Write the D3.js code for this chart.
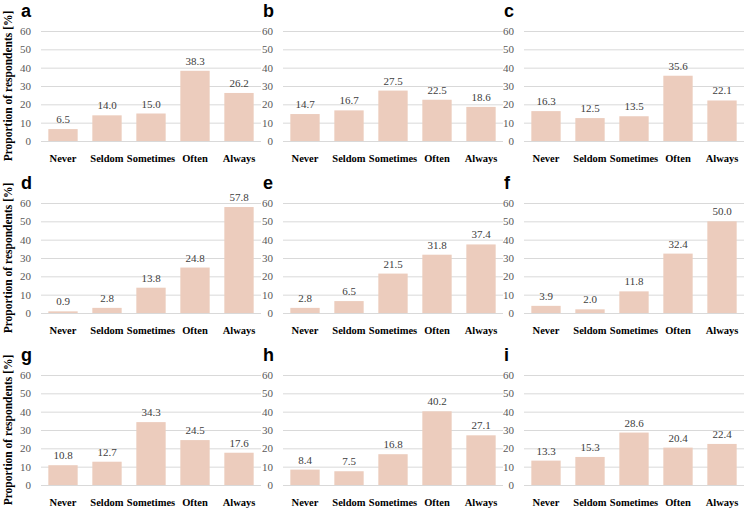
<!DOCTYPE html>
<html>
<head>
<meta charset="utf-8">
<script src="https://cdn.jsdelivr.net/npm/d3@7"></script>
<style>
  body { margin: 0; background: #fff; }
  svg { display: block; }
  .serif { font-family: 'Times New Roman', 'Liberation Serif', Tinos, 'DejaVu Serif', serif; }
  .sans { font-family: Arial, 'Liberation Sans', sans-serif; }
</style>
</head>
<body>
<script>
// answer categories, shared by all nine panels
const categories = ["Never", "Seldom", "Sometimes", "Often", "Always"];
const panelLetters = ["a", "b", "c", "d", "e", "f", "g", "h", "i"];
const yTicks = [0, 10, 20, 30, 40, 50, 60];

// proportion of respondents [%] per panel
const valuesA = [6.5, 14.0, 15.0, 38.3, 26.2];
const valuesB = [14.7, 16.7, 27.5, 22.5, 18.6];
const valuesC = [16.3, 12.5, 13.5, 35.6, 22.1];
const valuesD = [0.9, 2.8, 13.8, 24.8, 57.8];
const valuesE = [2.8, 6.5, 21.5, 31.8, 37.4];
const valuesF = [3.9, 2.0, 11.8, 32.4, 50.0];
const valuesG = [10.8, 12.7, 34.3, 24.5, 17.6];
const valuesH = [8.4, 7.5, 16.8, 40.2, 27.1];
const valuesI = [13.3, 15.3, 28.6, 20.4, 22.4];

const panelValues = [valuesA, valuesB, valuesC, valuesD, valuesE, valuesF, valuesG, valuesH, valuesI];

const W = 747, H = 513;
const colLeft = [41, 283, 524];
const rowTop = [31, 203, 375];
const plotW = 220, plotH = 110;

const svg = d3.select("body").append("svg")
    .attr("width", W)
    .attr("height", H);

const x = d3.scaleBand()
    .domain(categories)
    .range([0, plotW])
    .paddingInner(1 / 3)
    .paddingOuter(1 / 6);

const y = d3.scaleLinear()
    .domain([0, 60])
    .range([plotH, 0]);

panelValues.forEach((vals, i) => {
    const col = i % 3, row = Math.floor(i / 3);
    const g = svg.append("g")
        .attr("transform", `translate(${colLeft[col]},${rowTop[row]})`);

    // gridlines
    g.selectAll(".grid")
        .data(yTicks)
        .enter()
        .append("line")
        .attr("x1", 0)
        .attr("x2", plotW)
        .attr("y1", d => y(d) + 0.5)
        .attr("y2", d => y(d) + 0.5)
        .attr("stroke", "#d9d9d9")
        .attr("stroke-width", 1);

    // tick labels
    g.selectAll(".tick")
        .data(yTicks)
        .enter()
        .append("text")
        .attr("class", "serif")
        .attr("x", -10)
        .attr("y", d => y(d))
        .attr("dy", "0.35em")
        .attr("text-anchor", "end")
        .attr("font-size", 11)
        .attr("fill", "#595959")
        .text(d => d);

    // bars
    g.selectAll(".bar")
        .data(vals)
        .enter()
        .append("rect")
        .attr("x", (d, j) => x(categories[j]))
        .attr("width", x.bandwidth())
        .attr("y", d => y(d))
        .attr("height", d => plotH - y(d))
        .attr("fill", "#ecccbd");

    // value labels
    g.selectAll(".val")
        .data(vals)
        .enter()
        .append("text")
        .attr("class", "serif")
        .attr("x", (d, j) => x(categories[j]) + x.bandwidth() / 2)
        .attr("y", d => y(d) - 6)
        .attr("text-anchor", "middle")
        .attr("font-size", 11)
        .attr("fill", "#404040")
        .text(d => d.toFixed(1));

    // category labels
    g.selectAll(".cat")
        .data(categories)
        .enter()
        .append("text")
        .attr("class", "serif")
        .attr("x", d => x(d) + x.bandwidth() / 2)
        .attr("y", plotH + 21)
        .attr("text-anchor", "middle")
        .attr("font-weight", "bold")
        .attr("font-size", 10.5)
        .attr("fill", "#000")
        .text(d => d);

    // panel letter
    g.append("text")
        .attr("class", "sans")
        .attr("x", -20)
        .attr("y", -14)
        .attr("font-weight", "bold")
        .attr("font-size", 18)
        .attr("fill", "#000")
        .text(panelLetters[i]);

    // y axis title, first column only
    if (col === 0) {
        g.append("text")
            .attr("class", "serif")
            .attr("transform", `translate(${-33},${plotH / 2}) rotate(-90)`)
            .attr("text-anchor", "middle")
            .attr("dy", "0.35em")
            .attr("font-weight", "bold")
            .attr("font-size", 11.5)
            .attr("fill", "#000")
            .text("Proportion of respondents [%]");
    }
});
</script>
</body>
</html>
